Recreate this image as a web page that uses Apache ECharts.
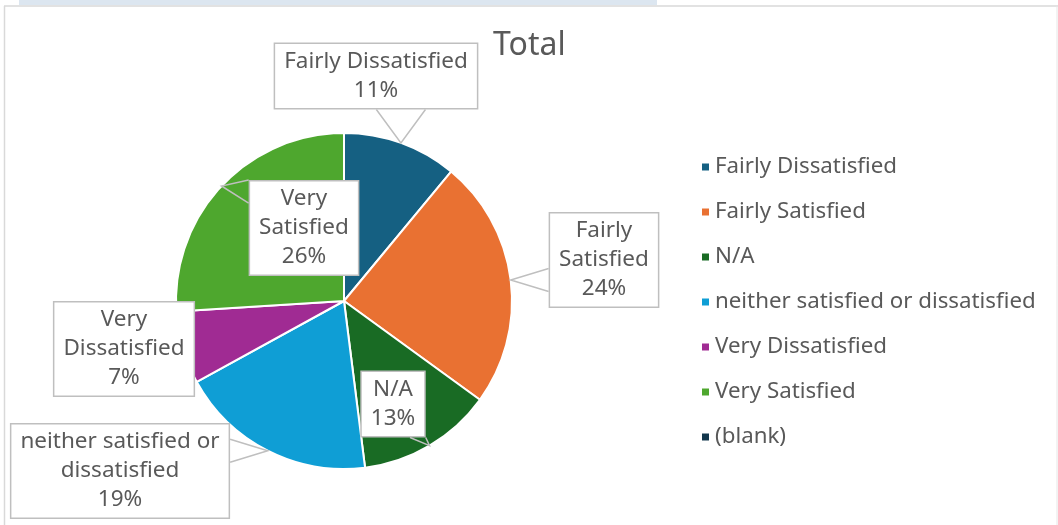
<!DOCTYPE html>
<html>
<head>
<meta charset="utf-8">
<script src="https://cdn.jsdelivr.net/npm/echarts@6/dist/echarts.min.js"></script>
<style>
  html, body { margin: 0; padding: 0; background: #fff; }
  #main { width: 1058px; height: 525px; }
</style>
</head>
<body>
<div id="main"></div>
<script>
// 数据
var categories = ['Fairly Dissatisfied', 'Fairly Satisfied', 'N/A', 'neither satisfied or dissatisfied', 'Very Dissatisfied', 'Very Satisfied', '(blank)'];
var values = [11, 24, 13, 19, 7, 26, 0];
// 标签换行文字
var labelText = ['Fairly Dissatisfied', 'Fairly\nSatisfied', 'N/A', 'neither satisfied or\ndissatisfied', 'Very\nDissatisfied', 'Very\nSatisfied', '(blank)'];
var colors = ['#156082', '#E97132', '#196B24', '#0F9ED5', '#A02B93', '#4EA72E', '#12374C'];

// callout 框的中心位置
var calloutPos = [[376, 76], [604, 260], [393, 404], [120, 471], [124, 349], [304, 228]];

var FONT = 'Noto Sans';
var TEXT = '#595959';
var CENTER = [344, 301];
var RADIUS = 168;

var chart = echarts.init(document.getElementById('main'));

// 从框的边到扇区锚点画一个尖角
function wedge(anchor, pos, w, h) {
  var x0 = pos[0] - w / 2, x1 = pos[0] + w / 2;
  var y0 = pos[1] - h / 2, y1 = pos[1] + h / 2;
  var ax = anchor[0], ay = anchor[1];
  if (ax >= x0 && ax <= x1 && ay >= y0 && ay <= y1) {
    return [anchor, anchor, anchor];
  }
  var outX = ax < x0 ? x0 - ax : (ax > x1 ? ax - x1 : 0);
  var outY = ay < y0 ? y0 - ay : (ay > y1 ? ay - y1 : 0);
  var a, b, half;
  if (outX > outY) {
    // 左右两边
    var sx = ax < x0 ? x0 : x1;
    half = h * 0.12;
    var c = Math.min(Math.max(ay, y0 + half), y1 - half);
    a = [sx, c - half];
    b = [sx, c + half];
  } else {
    // 上下两边
    var sy = ay < y0 ? y0 : y1;
    half = w * 0.12;
    var c2 = Math.min(Math.max(ax, x0 + half), x1 - half);
    a = [c2 - half, sy];
    b = [c2 + half, sy];
  }
  return [a, [ax, ay], b];
}

var pieData = [];
var labelData = [];
for (var i = 0; i < categories.length; i++) {
  pieData.push({ name: categories[i], value: values[i], itemStyle: { color: colors[i] } });
  var item = { name: categories[i], value: values[i] };
  if (!values[i]) {
    item.label = { show: false };
    item.labelLine = { show: false };
  }
  labelData.push(item);
}

var option = {
  animation: false,
  title: {
    text: 'Total',
    left: 493,
    top: 30,
    padding: 0,
    textStyle: { fontFamily: FONT, fontSize: 32, fontWeight: 'normal', color: TEXT }
  },
  legend: {
    orient: 'vertical',
    left: 700,
    top: 156,
    padding: 0,
    itemWidth: 9,
    itemHeight: 9,
    itemGap: 23,
    icon: 'rect',
    data: categories,
    textStyle: { fontFamily: FONT, fontSize: 22.3, color: TEXT }
  },
  graphic: [
    { type: 'rect', shape: { x: 19, y: 0, width: 638, height: 5 }, style: { fill: '#DCE6F0' } },
    { type: 'line', shape: { x1: 4, y1: 6, x2: 1058, y2: 6 }, style: { stroke: '#D9D9D9', lineWidth: 1.5 } },
    { type: 'line', shape: { x1: 4.5, y1: 6, x2: 4.5, y2: 525 }, style: { stroke: '#D9D9D9', lineWidth: 1.5 } },
    { type: 'line', shape: { x1: 1057, y1: 6, x2: 1057, y2: 525 }, style: { stroke: '#E6E6E6', lineWidth: 1 } }
  ],
  series: [
    {
      // 饼图本体
      type: 'pie',
      center: CENTER,
      radius: RADIUS,
      startAngle: 90,
      clockwise: true,
      z: 2,
      label: { show: false },
      labelLine: { show: false },
      itemStyle: { borderColor: '#fff', borderWidth: 2 },
      data: pieData
    },
    {
      // 标签层，放在饼图上面
      type: 'pie',
      center: CENTER,
      radius: RADIUS,
      startAngle: 90,
      clockwise: true,
      z: 5,
      silent: true,
      avoidLabelOverlap: false,
      itemStyle: { color: 'rgba(0,0,0,0)', borderWidth: 0 },
      label: {
        show: true,
        position: 'outside',
        formatter: function (p) {
          return labelText[p.dataIndex] + '\n' + Math.round(p.percent) + '%';
        },
        fontFamily: FONT,
        fontSize: 22.5,
        lineHeight: 29,
        color: TEXT,
        align: 'center',
        backgroundColor: '#fff',
        borderColor: '#BFBFBF',
        borderWidth: 1.5,
        padding: [3, 9]
      },
      labelLine: {
        show: true,
        showAbove: true,
        length: 10,
        length2: 10,
        lineStyle: { color: '#BFBFBF', width: 1.5 }
      },
      labelLayout: function (params) {
        var pos = calloutPos[params.dataIndex];
        if (!pos) return {};
        var out = { x: pos[0], y: pos[1], align: 'center', verticalAlign: 'middle' };
        if (params.labelLinePoints) {
          out.labelLinePoints = wedge(params.labelLinePoints[0], pos, params.labelRect.width, params.labelRect.height);
        }
        return out;
      },
      data: labelData
    }
  ]
};

chart.setOption(option);
</script>
</body>
</html>
